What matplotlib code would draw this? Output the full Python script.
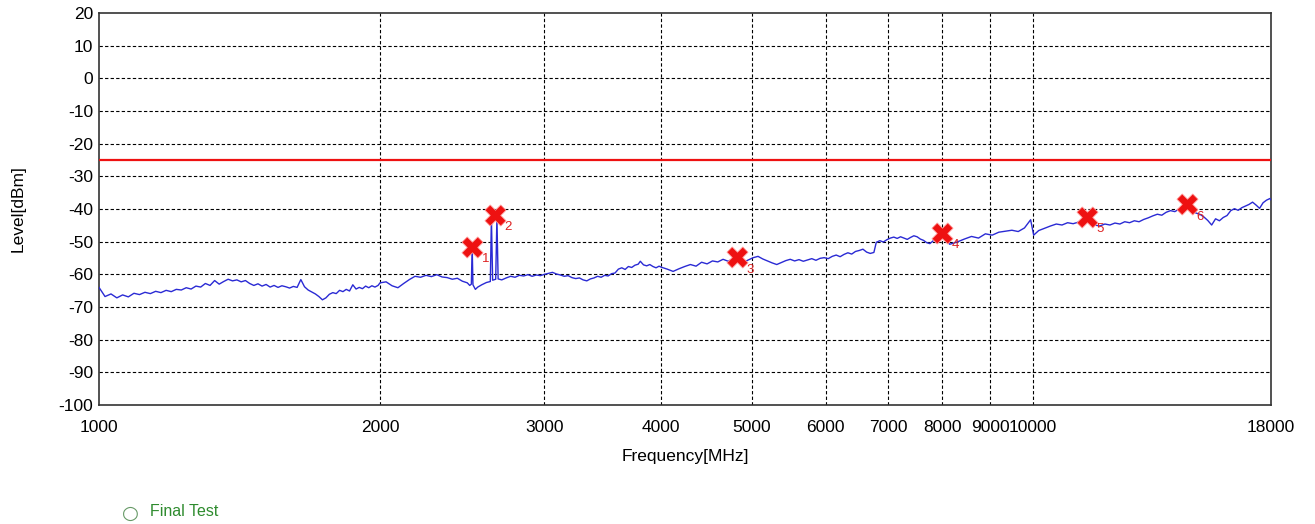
import matplotlib
matplotlib.use("Agg")
import matplotlib.pyplot as plt
from matplotlib.ticker import FixedLocator, NullLocator
from matplotlib import font_manager

names = {f.name for f in font_manager.fontManager.ttflist}
narrow = 'Liberation Sans Narrow' if 'Liberation Sans Narrow' in names else 'Liberation Sans'
plt.rcParams['font.family'] = [narrow, 'DejaVu Sans']

# ---- data ----
freq_a = [1000, 1015, 1030, 1045, 1060, 1075, 1090, 1105, 1120, 1135, 1150, 1165, 1180, 1195,
          1210, 1225, 1240, 1255, 1270, 1285, 1300, 1315, 1330, 1345, 1360, 1375, 1390, 1405,
          1420, 1435, 1450, 1465, 1480, 1495, 1510, 1525, 1540, 1555, 1570, 1585, 1600, 1615,
          1630, 1645, 1660, 1675, 1690, 1705, 1720, 1735, 1750, 1765, 1780, 1795, 1810, 1825,
          1840, 1855, 1870, 1885, 1900, 1915, 1930, 1945, 1960, 1975, 1990]
level_a = [-64.0, -66.8, -66.0, -67.2, -66.3, -66.9, -65.8, -66.2, -65.5, -65.9, -65.2, -65.6,
           -64.9, -65.3, -64.6, -64.8, -64.1, -64.5, -63.6, -63.9, -62.8, -63.4, -61.9, -63.0,
           -62.2, -61.5, -62.0, -61.7, -62.3, -61.9, -62.8, -63.4, -62.9, -63.6, -63.1, -63.9,
           -63.4, -64.0, -63.5, -63.8, -64.2, -63.7, -64.0, -61.6, -63.8, -64.8, -65.4, -66.0,
           -66.8, -67.8, -67.2, -66.1, -65.6, -65.9, -64.9, -65.3, -64.6, -65.1, -63.2, -64.5,
           -64.0, -64.4, -63.6, -64.1, -63.5, -63.9, -63.4]

freq_b = [2000, 2030, 2060, 2090, 2120, 2150, 2180, 2210, 2240, 2270, 2300, 2330, 2360, 2390,
          2420, 2450, 2480, 2495, 2505, 2510, 2515, 2530, 2545, 2570, 2600, 2625, 2632, 2640,
          2660, 2668, 2676, 2700, 2730, 2760, 2790, 2820, 2850, 2880, 2910, 2940, 2970, 3000,
          3030, 3060, 3090, 3120, 3150, 3180, 3210, 3240, 3270, 3300, 3330, 3360, 3390, 3420,
          3450, 3480, 3510, 3540, 3570, 3600, 3630, 3660, 3690, 3720, 3750, 3780, 3800, 3830,
          3860, 3890, 3920, 3950, 3980]
level_b = [-62.6, -62.3, -63.5, -64.1, -62.8, -61.6, -60.6, -60.9, -60.3, -60.7, -60.1, -60.8,
           -61.0, -61.5, -61.2, -62.1, -62.6, -63.4, -63.0, -51.5, -63.2, -64.6, -63.9, -63.2,
           -62.5, -62.2, -42.6, -61.8, -61.5, -42.6, -61.4, -61.7, -61.1, -60.6, -60.9, -60.3,
           -60.5, -60.1, -60.6, -60.2, -60.4, -60.0, -59.7, -59.4, -59.9, -60.2, -60.6, -60.4,
           -61.0, -61.3, -61.1, -61.7, -62.0, -61.4, -61.1, -60.6, -60.9, -60.3, -60.5, -59.8,
           -59.6, -58.4, -58.0, -58.5, -57.6, -57.9, -57.2, -56.9, -56.0, -57.1, -57.4, -57.0,
           -57.6, -58.0, -57.5]

freq_c = [4000, 4060, 4120, 4180, 4240, 4300, 4360, 4420, 4480, 4540, 4600, 4660, 4720, 4780,
          4840, 4900, 4960, 5020, 5080, 5140, 5200, 5260, 5320, 5380, 5440, 5500, 5560, 5620,
          5680, 5740, 5800, 5860, 5920, 5980, 6040, 6100, 6160, 6220, 6280, 6340, 6400, 6460,
          6520, 6580, 6640, 6700, 6760, 6800, 6860, 6920, 6980, 7040, 7100, 7160, 7220, 7280,
          7340, 7400, 7460, 7520, 7580, 7640, 7700, 7760, 7820, 7880, 7940, 8000]
level_c = [-57.8, -58.4, -59.1, -58.3, -57.6, -57.0, -57.5, -56.3, -56.8, -55.9, -56.2, -55.4,
           -56.0, -55.2, -55.8, -56.3, -55.6, -54.9, -54.5, -55.3, -55.9, -56.5, -57.0, -56.4,
           -55.8, -55.4, -55.9, -55.5, -56.0, -55.6, -55.2, -55.7, -55.1, -54.9, -55.2, -54.5,
           -54.1, -54.6, -53.9, -53.4, -53.8, -53.0, -52.7, -52.3, -53.2, -53.6, -53.3, -50.2,
           -49.7, -50.1, -49.4, -48.9, -48.6, -49.0, -48.5, -48.9, -49.3, -48.7, -48.2, -48.5,
           -49.2, -49.6, -50.3, -50.6, -49.8, -48.9, -48.2, -48.0]

freq_d = [8150, 8300, 8450, 8600, 8750, 8900, 9050, 9200, 9350, 9500, 9650, 9800, 9950, 10025,
          10150, 10300, 10450, 10600, 10750, 10900, 11050, 11200, 11350, 11500, 11650, 11800,
          11950, 12100, 12250, 12400, 12550, 12700, 12850, 13000, 13150, 13300, 13450, 13600,
          13750, 13900, 14050, 14200, 14350, 14500, 14650, 14800, 14950, 15100, 15250, 15400,
          15550, 15700, 15850, 16000, 16150, 16300, 16450, 16600, 16750, 16900, 17050, 17200,
          17350, 17500, 17650, 17800, 17950, 18000]
level_d = [-50.8, -50.1, -49.2, -48.4, -48.9, -47.6, -48.0, -47.1, -46.8, -46.5, -46.9, -45.8,
           -43.3, -48.0, -46.6, -45.9, -45.2, -44.6, -44.9, -44.2, -44.5, -44.0, -42.8, -43.6,
           -44.9, -45.2, -44.6, -44.9, -44.3, -44.6, -43.9, -44.2, -43.6, -43.9, -43.2, -42.7,
           -42.1, -41.6, -41.9, -41.0, -40.5, -40.8, -40.0, -39.5, -38.9, -40.3, -41.2, -41.6,
           -42.4, -43.5, -44.9, -43.0, -43.6, -42.6, -42.0, -40.5, -39.9, -40.4, -39.6, -39.1,
           -38.6, -37.9, -38.8, -39.8, -38.1, -37.3, -36.8, -37.2]

marker_freq = [2510, 2656, 4820, 7993, 11425, 14623]
marker_level = [-51.5, -41.8, -54.8, -47.4, -42.3, -38.6]
marker_labels = ["1", "2", "3", "4", "5", "6"]

limit_level = -25
x_ticks = [1000, 2000, 3000, 4000, 5000, 6000, 7000, 8000, 9000, 10000, 18000]
x_grid = [2000, 3000, 4000, 5000, 6000, 7000, 8000, 9000, 10000]
y_ticks = [20, 10, 0, -10, -20, -30, -40, -50, -60, -70, -80, -90, -100]

# ---- plot ----
fig = plt.figure(figsize=(13.15, 5.24), dpi=100)
ax = fig.add_axes([99 / 1315, 1 - 405 / 524, (1271 - 99) / 1315, (405 - 13) / 524])

ax.set_xscale('log')
ax.set_xlim(1000, 18000)
ax.set_ylim(-100, 20)

freq = freq_a + freq_b + freq_c + freq_d
level = level_a + level_b + level_c + level_d
ax.plot(freq, level, color='#2a2ad4', linewidth=1.0, zorder=3)

ax.axhline(limit_level, color='#ee1111', linewidth=1.6, zorder=4)

ax.scatter(marker_freq, marker_level, marker='X', s=230, color='#ee1111',
           edgecolors='#ff9999', linewidths=0.6, zorder=5)
for f, l, t in zip(marker_freq, marker_level, marker_labels):
    ax.annotate(t, (f, l), xytext=(7, -11), textcoords='offset points',
                color='#dd2222', fontsize=9.5, zorder=6)

# grid
for yv in y_ticks[1:-1]:
    ax.axhline(yv, color='black', linewidth=0.8, linestyle=(0, (3, 2)), zorder=1)
for xv in x_grid:
    ax.axvline(xv, color='black', linewidth=0.8, linestyle=(0, (3, 2)), zorder=1)

ax.xaxis.set_major_locator(FixedLocator(x_ticks))
ax.xaxis.set_minor_locator(NullLocator())
ax.set_xticklabels([str(v) for v in x_ticks])
ax.set_yticks(y_ticks)
ax.set_yticklabels([str(v) for v in y_ticks])
ax.tick_params(axis='both', which='both', length=0, labelsize=12.5, colors='black')
ax.tick_params(axis='x', pad=11)
ax.tick_params(axis='y', pad=4)

for s in ax.spines.values():
    s.set_color('#333333')
    s.set_linewidth(1.2)

ax.set_xlabel('Frequency[MHz]', fontsize=12.5, labelpad=10)
fig.text(18 / 1315, 1 - 209 / 524, 'Level[dBm]', rotation=90, fontsize=12.5,
         ha='center', va='center')

# legend
fig.text(130 / 1315, 1 - 513 / 524, '\u25cb', fontsize=14, color='#669966',
         ha='center', va='center', family=['DejaVu Sans'])
fig.text(150 / 1315, 1 - 512 / 524, 'Final Test', fontsize=11.5, color='#2e8b2e',
         ha='left', va='center')

fig.savefig('out.png', dpi=100)
